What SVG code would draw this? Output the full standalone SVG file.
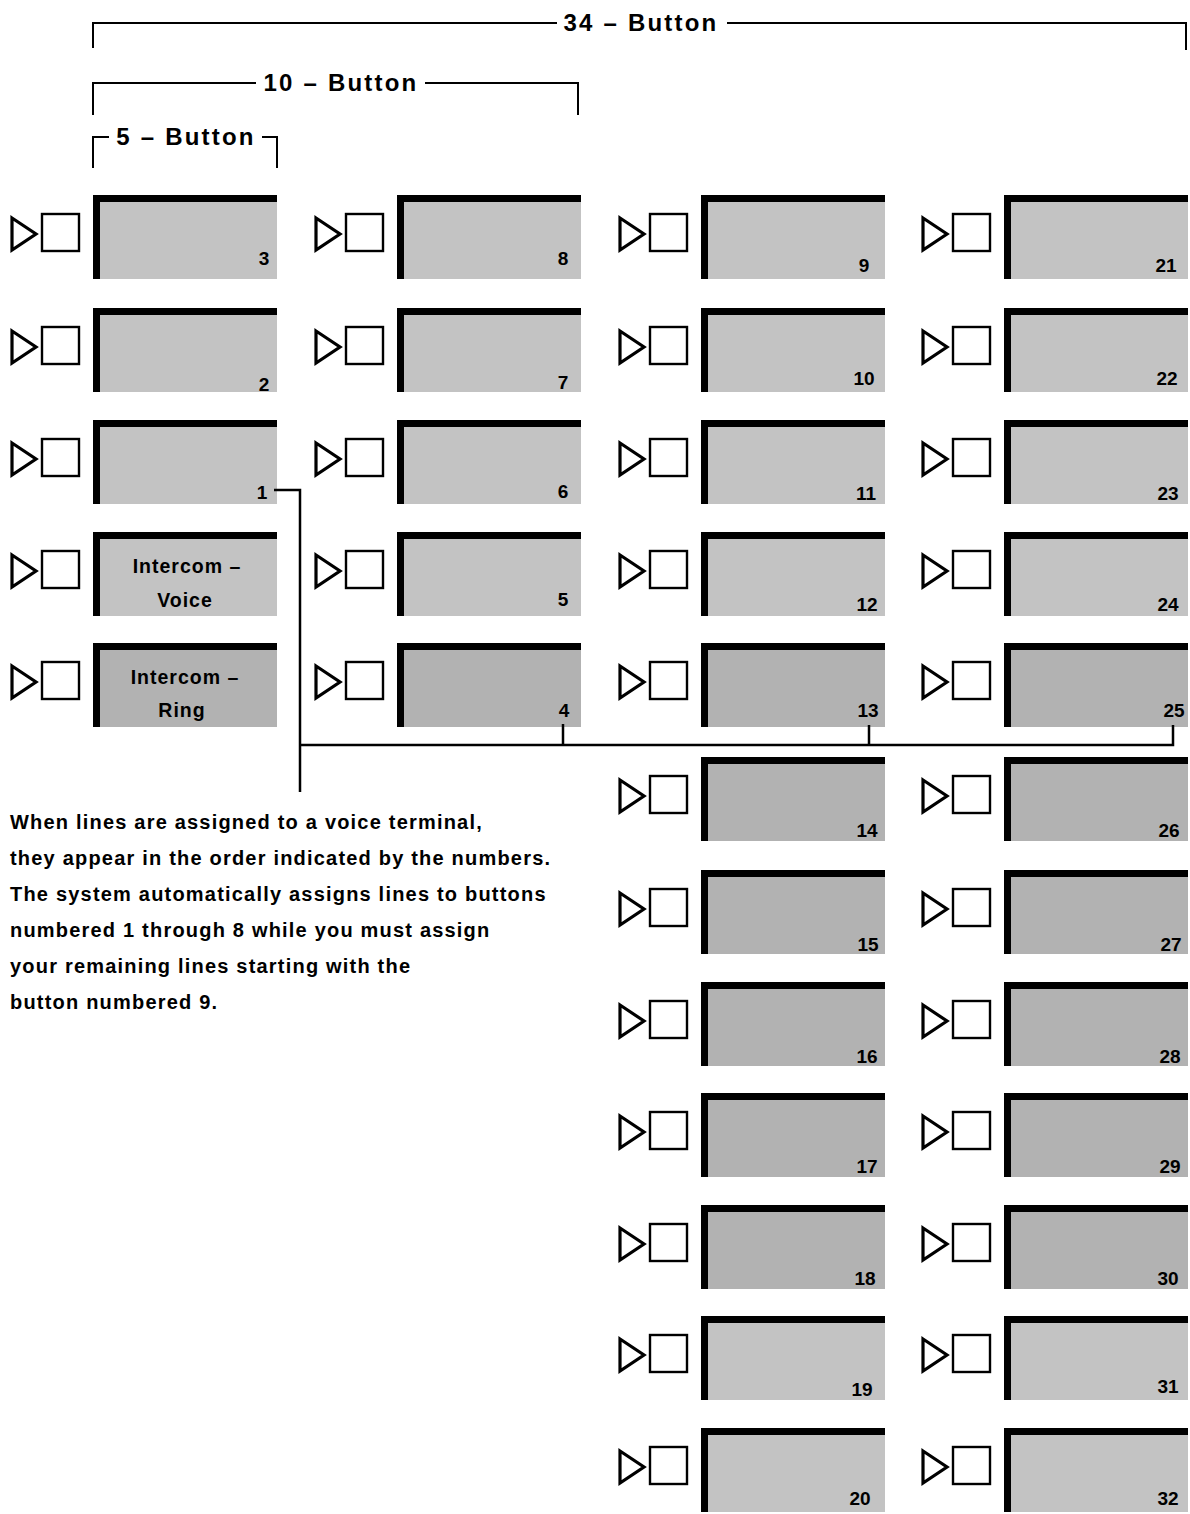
<svg xmlns="http://www.w3.org/2000/svg" xmlns:xlink="http://www.w3.org/1999/xlink" width="1190" height="1514" viewBox="0 0 1190 1514">
<style>
  text { font-family: "Liberation Sans", Arial, sans-serif; font-weight: bold; fill: #000; }
  .num { font-size: 19px; text-anchor: middle; }
  .ilbl { font-size: 19.5px; text-anchor: middle; letter-spacing: 1px; }
  .hdr { font-size: 24px; text-anchor: middle; letter-spacing: 2.2px; }
  .para { font-size: 20px; letter-spacing: 1.2px; }
  .tri { fill: #fff; stroke: #000; stroke-width: 3.2; stroke-linejoin: miter; }
  .sq { fill: #fff; stroke: #000; stroke-width: 2.4; }
  .bar { fill: #000; }
  .line { fill: none; stroke: #000; stroke-width: 2.5; }
  .br { fill: none; stroke: #000; stroke-width: 2; }
  .light { fill: #c3c3c3; }
  .dark { fill: #b2b2b2; }
</style>
<defs>
  <g id="unit">
    <polygon class="tri" points="-81,23 -57,39 -81,55"/>
    <rect class="sq" x="-51" y="19" width="37" height="37"/>
    <rect class="face" x="0" y="0" width="184" height="84"/>
    <rect class="bar" x="0" y="0" width="184" height="7"/>
    <rect class="bar" x="0" y="0" width="7" height="84"/>
  </g>
</defs>
<rect x="0" y="0" width="1190" height="1514" fill="#fff"/>

<g id="brackets">
  <path class="br" d="M93,48 V23 H557 M727,23 H1186 V50"/>
  <text class="hdr" x="641" y="31">34 – Button</text>
  <path class="br" d="M93,115 V83 H256 M425,83 H578 V115"/>
  <text class="hdr" x="341" y="91">10 – Button</text>
  <path class="br" d="M93,168 V137 H109 M262,137 H277 V168"/>
  <text class="hdr" x="186" y="145">5 – Button</text>
</g>

<!-- Column 1 -->
<g id="btn-3" class="light" transform="translate(93,195)"><use xlink:href="#unit"/><text class="num" x="171" y="70">3</text></g>
<g id="btn-2" class="light" transform="translate(93,308)"><use xlink:href="#unit"/><text class="num" x="171" y="83">2</text></g>
<g id="btn-1" class="light" transform="translate(93,420)"><use xlink:href="#unit"/><text class="num" x="169" y="79">1</text></g>
<g id="btn-intercom-voice" class="light" transform="translate(93,532)"><use xlink:href="#unit"/><text class="ilbl" x="94" y="41">Intercom –</text><text class="ilbl" x="92" y="75">Voice</text></g>
<g id="btn-intercom-ring" class="dark" transform="translate(93,643)"><use xlink:href="#unit"/><text class="ilbl" x="92" y="41">Intercom –</text><text class="ilbl" x="89" y="74">Ring</text></g>

<!-- Column 2 -->
<g id="btn-8" class="light" transform="translate(397,195)"><use xlink:href="#unit"/><text class="num" x="166" y="70">8</text></g>
<g id="btn-7" class="light" transform="translate(397,308)"><use xlink:href="#unit"/><text class="num" x="166" y="81">7</text></g>
<g id="btn-6" class="light" transform="translate(397,420)"><use xlink:href="#unit"/><text class="num" x="166" y="78">6</text></g>
<g id="btn-5" class="light" transform="translate(397,532)"><use xlink:href="#unit"/><text class="num" x="166" y="74">5</text></g>
<g id="btn-4" class="dark" transform="translate(397,643)"><use xlink:href="#unit"/><text class="num" x="167" y="74">4</text></g>

<!-- Column 3 -->
<g id="btn-9" class="light" transform="translate(701,195)"><use xlink:href="#unit"/><text class="num" x="163" y="77">9</text></g>
<g id="btn-10" class="light" transform="translate(701,308)"><use xlink:href="#unit"/><text class="num" x="163" y="77">10</text></g>
<g id="btn-11" class="light" transform="translate(701,420)"><use xlink:href="#unit"/><text class="num" x="165" y="80">11</text></g>
<g id="btn-12" class="light" transform="translate(701,532)"><use xlink:href="#unit"/><text class="num" x="166" y="79">12</text></g>
<g id="btn-13" class="dark" transform="translate(701,643)"><use xlink:href="#unit"/><text class="num" x="167" y="74">13</text></g>
<g id="btn-14" class="dark" transform="translate(701,757)"><use xlink:href="#unit"/><text class="num" x="166" y="80">14</text></g>
<g id="btn-15" class="dark" transform="translate(701,870)"><use xlink:href="#unit"/><text class="num" x="167" y="81">15</text></g>
<g id="btn-16" class="dark" transform="translate(701,982)"><use xlink:href="#unit"/><text class="num" x="166" y="81">16</text></g>
<g id="btn-17" class="dark" transform="translate(701,1093)"><use xlink:href="#unit"/><text class="num" x="166" y="80">17</text></g>
<g id="btn-18" class="dark" transform="translate(701,1205)"><use xlink:href="#unit"/><text class="num" x="164" y="80">18</text></g>
<g id="btn-19" class="light" transform="translate(701,1316)"><use xlink:href="#unit"/><text class="num" x="161" y="80">19</text></g>
<g id="btn-20" class="light" transform="translate(701,1428)"><use xlink:href="#unit"/><text class="num" x="159" y="77">20</text></g>

<!-- Column 4 -->
<g id="btn-21" class="light" transform="translate(1004,195)"><use xlink:href="#unit"/><text class="num" x="162" y="77">21</text></g>
<g id="btn-22" class="light" transform="translate(1004,308)"><use xlink:href="#unit"/><text class="num" x="163" y="77">22</text></g>
<g id="btn-23" class="light" transform="translate(1004,420)"><use xlink:href="#unit"/><text class="num" x="164" y="80">23</text></g>
<g id="btn-24" class="light" transform="translate(1004,532)"><use xlink:href="#unit"/><text class="num" x="164" y="79">24</text></g>
<g id="btn-25" class="dark" transform="translate(1004,643)"><use xlink:href="#unit"/><text class="num" x="170" y="74">25</text></g>
<g id="btn-26" class="dark" transform="translate(1004,757)"><use xlink:href="#unit"/><text class="num" x="165" y="80">26</text></g>
<g id="btn-27" class="dark" transform="translate(1004,870)"><use xlink:href="#unit"/><text class="num" x="167" y="81">27</text></g>
<g id="btn-28" class="dark" transform="translate(1004,982)"><use xlink:href="#unit"/><text class="num" x="166" y="81">28</text></g>
<g id="btn-29" class="dark" transform="translate(1004,1093)"><use xlink:href="#unit"/><text class="num" x="166" y="80">29</text></g>
<g id="btn-30" class="dark" transform="translate(1004,1205)"><use xlink:href="#unit"/><text class="num" x="164" y="80">30</text></g>
<g id="btn-31" class="light" transform="translate(1004,1316)"><use xlink:href="#unit"/><text class="num" x="164" y="77">31</text></g>
<g id="btn-32" class="light" transform="translate(1004,1428)"><use xlink:href="#unit"/><text class="num" x="164" y="77">32</text></g>

<g id="connectors">
  <path class="line" d="M274,490 H300 V792"/>
  <path class="line" d="M300,745 H1173 V725"/>
  <path class="line" d="M563,745 V724"/>
  <path class="line" d="M869,745 V725"/>
</g>

<g id="note">
  <text class="para" x="10" y="829">When lines are assigned to a voice terminal,</text>
  <text class="para" x="10" y="865">they appear in the order indicated by the numbers.</text>
  <text class="para" x="10" y="901">The system automatically assigns lines to buttons</text>
  <text class="para" x="10" y="937">numbered 1 through 8 while you must assign</text>
  <text class="para" x="10" y="973">your remaining lines starting with the</text>
  <text class="para" x="10" y="1009">button numbered 9.</text>
</g>
</svg>
